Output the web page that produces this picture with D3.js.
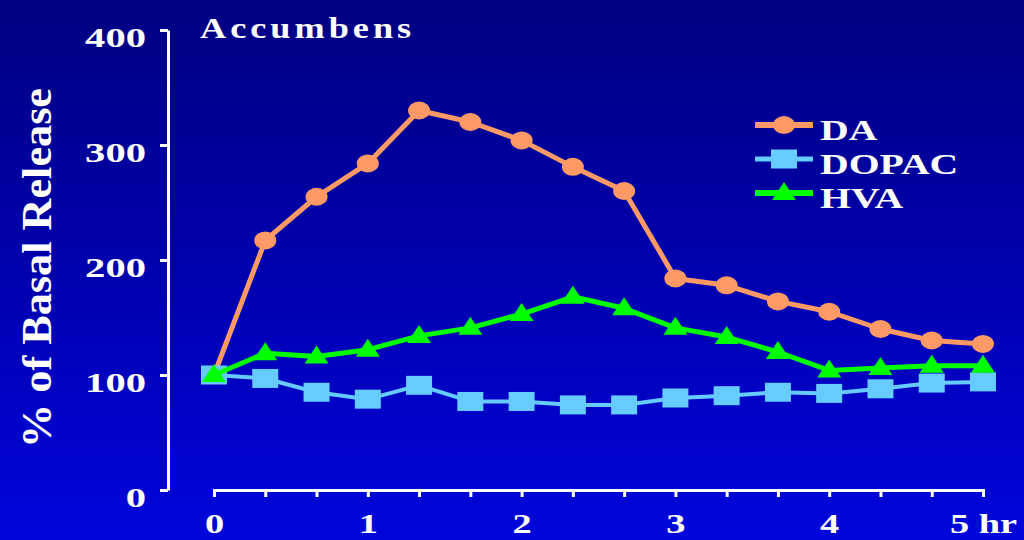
<!DOCTYPE html>
<html>
<head>
<meta charset="utf-8">
<script src="https://cdn.jsdelivr.net/npm/d3@7"></script>
<style>
  html, body { margin: 0; padding: 0; background: #000088; }
  svg { display: block; }
</style>
</head>
<body>
<svg id="chart" width="1024" height="540"></svg>
<script>
// Sampling times (hours) every 20 minutes
const times = [0, 1/3, 2/3, 1, 4/3, 5/3, 2, 7/3, 8/3, 3, 10/3, 11/3, 4, 13/3, 14/3, 5];
// Release as % of basal level
const daValues    = [100, 217, 255, 284, 330, 320, 304, 281, 260, 184, 178, 164, 155, 140, 130, 127];
const dopacValues = [100, 97, 85, 79, 91, 77, 77, 74, 74, 80, 82, 85, 84, 88, 93, 94];
const hvaValues   = [100, 119, 116, 122, 134, 141, 153, 168, 158, 141, 133, 120, 104, 106, 108, 108];
const seriesNames = ["DA", "DOPAC", "HVA"];
const yTicks = [0, 100, 200, 300, 400];
const xTickLabels = ["0", "1", "2", "3", "4", "5 hr"];
const chartTitle = "Accumbens";
const yTitle = "% of Basal Release";

const svg = d3.select("#chart");
const W = 1024, H = 540;
const FONT = "'Liberation Serif', 'Times New Roman', serif";
const SX = 1.37; // horizontal stretch of lettering

// background gradient
const defs = svg.append("defs");
const grad = defs.append("linearGradient").attr("id", "bg")
  .attr("x1", 0).attr("y1", 0).attr("x2", 0).attr("y2", 1);
grad.append("stop").attr("offset", "0%").attr("stop-color", "#000082");
grad.append("stop").attr("offset", "55%").attr("stop-color", "#0000b2");
grad.append("stop").attr("offset", "100%").attr("stop-color", "#0006dc");
svg.append("rect").attr("width", W).attr("height", H).attr("fill", "url(#bg)");

const x = d3.scaleLinear().domain([0, 5]).range([214, 983]);
const y = d3.scaleLinear().domain([0, 400]).range([490, 30]);

// y axis
const yAxis = svg.append("g").attr("transform", "translate(168,0)")
  .call(d3.axisLeft(y).tickValues(yTicks).tickSizeInner(8).tickSizeOuter(0).tickFormat(d3.format("d")));
yAxis.select(".domain").attr("stroke", "#fff").attr("stroke-width", 3);
yAxis.selectAll(".tick line").attr("stroke", "#fff").attr("stroke-width", 3);
yAxis.selectAll(".tick text")
  .attr("x", 0).attr("dy", null).attr("y", 0)
  .attr("transform", "translate(-22,16) scale(1.45,1)")
  .attr("text-anchor", "end")
  .attr("fill", "#fff")
  .style("font-family", FONT).style("font-weight", "bold").style("font-size", "28px");

// x axis
const xAxis = svg.append("g").attr("transform", "translate(0,490)")
  .call(d3.axisBottom(x).tickValues(times).tickSizeInner(7).tickSizeOuter(7)
    .tickFormat((d, i) => (i % 3 === 0 ? xTickLabels[i / 3] : "")));
xAxis.select(".domain").attr("stroke", "#fff").attr("stroke-width", 3);
xAxis.selectAll(".tick line").attr("stroke", "#fff").attr("stroke-width", 3);
xAxis.selectAll(".tick text")
  .attr("y", 0).attr("dy", null)
  .attr("transform", "translate(0,43) scale(" + SX + ",1)")
  .attr("text-anchor", "middle")
  .attr("fill", "#fff")
  .style("font-family", FONT).style("font-weight", "bold").style("font-size", "28px");

// title
svg.append("text")
  .attr("transform", "translate(200,38) scale(1.25,1)")
  .attr("fill", "#fff")
  .style("letter-spacing", "3.2px")
  .style("font-family", FONT).style("font-weight", "bold").style("font-size", "29px")
  .text(chartTitle);

// y axis title
svg.append("text")
  .attr("transform", "translate(51,268) rotate(-90)")
  .attr("text-anchor", "middle")
  .attr("fill", "#fff")
  .attr("textLength", 360).attr("lengthAdjust", "spacingAndGlyphs")
  .style("font-family", FONT).style("font-weight", "bold").style("font-size", "42px")
  .text(yTitle);

// marker shapes
const markers = {
  circle: (g, color) => g.append("ellipse").attr("rx", 11).attr("ry", 9).attr("fill", color),
  square: (g, color) => g.append("rect").attr("x", -13).attr("y", -9.5).attr("width", 26).attr("height", 19).attr("fill", color),
  triangle: (g, color) => g.append("path").attr("d", "M0,-11 L12,7 L-12,7 Z").attr("fill", color)
};

const series = [
  { name: seriesNames[0], values: daValues, color: "#ff9966", width: 5, shape: "circle" },
  { name: seriesNames[1], values: dopacValues, color: "#66ccff", width: 4, shape: "square" },
  { name: seriesNames[2], values: hvaValues, color: "#00ff00", width: 5, shape: "triangle" }
];

const line = d3.line().x((d, i) => x(times[i])).y(d => y(d));

series.forEach(s => {
  const g = svg.append("g");
  g.append("path").datum(s.values)
    .attr("d", line).attr("fill", "none")
    .attr("stroke", s.color).attr("stroke-width", s.width).attr("stroke-linejoin", "round");
  s.values.forEach((v, i) => {
    const mg = g.append("g").attr("transform", "translate(" + x(times[i]) + "," + y(v) + ")");
    markers[s.shape](mg, s.color);
  });
});

// legend
const legendY = [125, 159, 193];
series.forEach((s, i) => {
  const g = svg.append("g").attr("transform", "translate(0," + legendY[i] + ")");
  g.append("line").attr("x1", 755).attr("x2", 813).attr("y1", 0).attr("y2", 0)
    .attr("stroke", s.color).attr("stroke-width", s.width + 1);
  const mg = g.append("g").attr("transform", "translate(784,0)");
  markers[s.shape](mg, s.color);
  g.append("text")
    .attr("transform", "translate(820,15) scale(" + SX + ",1)")
    .attr("fill", "#fff")
    .style("font-family", FONT).style("font-weight", "bold").style("font-size", "29px")
    .text(s.name);
});
</script>
</body>
</html>
